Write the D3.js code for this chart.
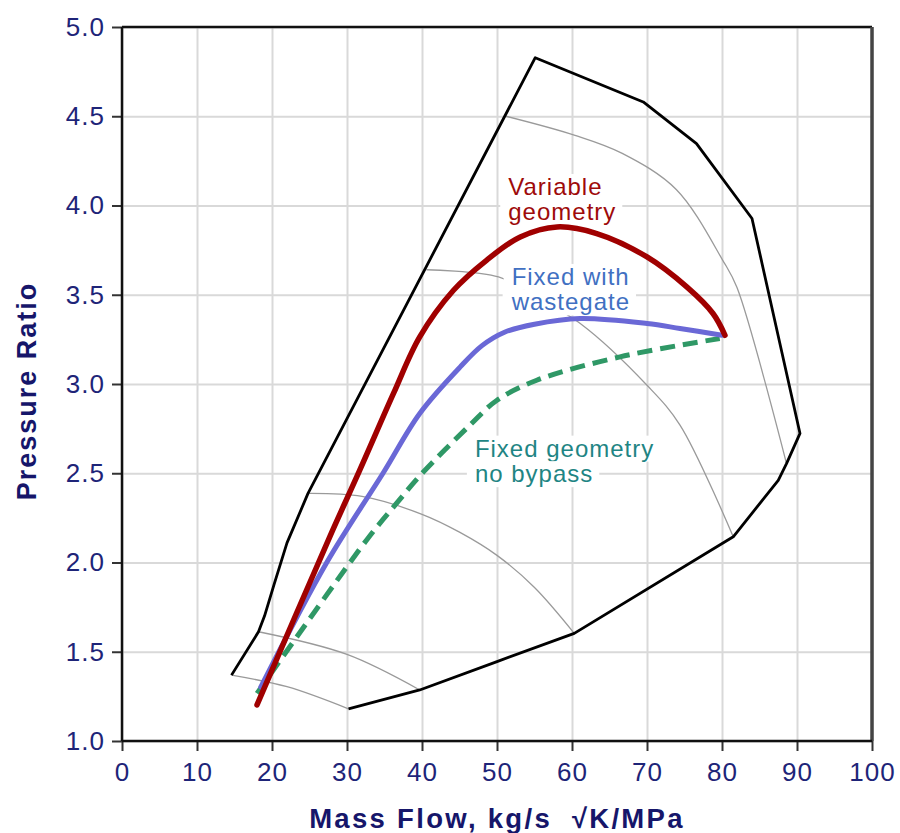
<!DOCTYPE html>
<html>
<head>
<meta charset="utf-8">
<script src="https://cdn.jsdelivr.net/npm/d3@7"></script>
<style>
  body { margin: 0; background: #fff; }
  svg { display: block; }
</style>
</head>
<body>
<div id="chart"></div>
<script>
// compressor map values (mass flow, pressure ratio)
const envelope = [
    [14.6, 1.369], [18.2, 1.612], [19.0, 1.700], [20.3, 1.880], [22.0, 2.110],
    [24.8, 2.387], [55.1, 4.828], [69.5, 4.580], [76.6, 4.347], [84.0, 3.927],
    [90.4, 2.723], [88.6, 2.554], [87.5, 2.460], [85.5, 2.355], [81.5, 2.144],
    [60.3, 1.603], [50.0, 1.445], [39.7, 1.286], [30.2, 1.180]
];

const speedLines = [
    [[14.6, 1.369], [22.0, 1.304], [30.2, 1.180]],
    [[18.2, 1.612], [30.0, 1.485], [39.7, 1.286]],
    [[24.8, 2.387], [32.0, 2.370], [40.0, 2.270], [45.0, 2.170], [50.0, 2.040], [55.0, 1.860], [60.3, 1.603]],
    [[40.6, 3.640], [50.2, 3.600], [55.5, 3.480], [61.1, 3.339], [70.0, 2.993], [74.4, 2.770], [81.5, 2.144]],
    [[51.2, 4.500], [60.4, 4.393], [66.7, 4.292], [73.9, 4.090], [80.1, 3.693], [82.0, 3.540], [88.6, 2.554]]
];

const variableGeometry = [
    [18.0, 1.202], [27.7, 2.144], [31.7, 2.517], [36.2, 2.947], [39.7, 3.264],
    [44.2, 3.525], [48.6, 3.693], [53.1, 3.824], [58.0, 3.880], [63.3, 3.843],
    [70.0, 3.712], [75.3, 3.544], [78.8, 3.395], [80.4, 3.273]
];

const wastegate = [
    [18.5, 1.302], [27.3, 2.000], [34.8, 2.500], [39.7, 2.835],
    [45.1, 3.096], [48.0, 3.215], [51.0, 3.290], [55.0, 3.335], [61.1, 3.367],
    [70.0, 3.339], [74.4, 3.311], [80.0, 3.273]
];

const noBypass = [
    [18.0, 1.267], [32.6, 2.125], [36.6, 2.331], [39.7, 2.485], [46.4, 2.770],
    [50.0, 2.909], [55.3, 3.021], [66.4, 3.152], [79.7, 3.255]
];

const xTicks = [0, 10, 20, 30, 40, 50, 60, 70, 80, 90, 100];
const yTicks = [1.0, 1.5, 2.0, 2.5, 3.0, 3.5, 4.0, 4.5, 5.0];

const labelVariable = ["Variable", "geometry"];
const labelWastegate = ["Fixed with", "wastegate"];
const labelNoBypass = ["Fixed geometry", "no bypass"];

drawMap();

function drawMap() {
    const el = "#chart";
    const width = 900;
    const height = 833;
    const margin = { top: 27, right: 28, bottom: 92, left: 122 };

    const graphW = width - margin.left - margin.right;
    const graphH = height - margin.top - margin.bottom;

    const font = "'Liberation Sans', Arial, sans-serif";
    const tickColour = "#1e2478";
    const titleColour = "#16166a";

    let svg = d3.select(el).append("svg")
        .attr("width", width)
        .attr("height", height);

    let group = svg.append("g")
        .attr("transform", `translate(${margin.left}, ${margin.top})`);

    const x = d3.scaleLinear().domain([0, 100]).range([0, graphW]);
    const y = d3.scaleLinear().domain([1, 5]).range([graphH, 0]);

    // gridlines
    group.append("g")
        .attr("class", "grid")
        .call(d3.axisLeft(y).tickValues(yTicks).tickSize(-graphW).tickFormat(""))
        .call(g => g.select(".domain").remove())
        .selectAll("line")
        .attr("stroke", "#d9d9d9")
        .attr("stroke-width", 2);

    group.append("g")
        .attr("class", "grid")
        .attr("transform", `translate(0, ${graphH})`)
        .call(d3.axisBottom(x).tickValues(xTicks).tickSize(-graphH).tickFormat(""))
        .call(g => g.select(".domain").remove())
        .selectAll("line")
        .attr("stroke", "#d9d9d9")
        .attr("stroke-width", 2);

    const line = d3.line()
        .x(d => x(d[0]))
        .y(d => y(d[1]));

    const smooth = d3.line()
        .x(d => x(d[0]))
        .y(d => y(d[1]))
        .curve(d3.curveCatmullRom.alpha(0.5));

    // thin speed lines
    group.append("g")
        .selectAll("path")
        .data(speedLines)
        .enter()
        .append("path")
        .attr("d", smooth)
        .attr("fill", "none")
        .attr("stroke", "#9a9a9a")
        .attr("stroke-width", 1.3);

    // labels with white boxes behind each line
    const labels = [
        { lines: labelVariable, x: 51.5, y: 4.059, colour: "#9e0a0a" },
        { lines: labelWastegate, x: 51.95, y: 3.555, colour: "#4170c2" },
        { lines: labelNoBypass, x: 47.05, y: 2.593, colour: "#1f8584" }
    ];
    const labelGroup = group.append("g");
    labels.forEach(lab => {
        lab.lines.forEach((t, i) => {
            const g = labelGroup.append("g");
            const txt = g.append("text")
                .attr("x", x(lab.x))
                .attr("y", y(lab.y) + i * 25.5)
                .style("font-family", font)
                .style("font-size", "24px")
                .style("letter-spacing", "1px")
                .attr("fill", lab.colour)
                .text(t);
            const b = txt.node().getBBox();
            g.insert("rect", "text")
                .attr("x", b.x - 8)
                .attr("y", b.y + 1)
                .attr("width", b.width + 14)
                .attr("height", b.height - 1)
                .attr("fill", "#fff");
        });
    });

    // operating envelope
    group.append("path")
        .datum(envelope)
        .attr("d", line)
        .attr("fill", "none")
        .attr("stroke", "#000")
        .attr("stroke-width", 2.8)
        .attr("stroke-linejoin", "round");

    group.append("path")
        .datum(noBypass)
        .attr("d", smooth)
        .attr("fill", "none")
        .attr("stroke", "#2f9866")
        .attr("stroke-width", 5)
        .attr("stroke-dasharray", "15,8");

    group.append("path")
        .datum(wastegate)
        .attr("d", smooth)
        .attr("fill", "none")
        .attr("stroke", "#6a68d6")
        .attr("stroke-width", 5)
        .attr("stroke-linecap", "round");

    group.append("path")
        .datum(variableGeometry)
        .attr("d", smooth)
        .attr("fill", "none")
        .attr("stroke", "#a00000")
        .attr("stroke-width", 5.5)
        .attr("stroke-linecap", "round");

    // axes
    const yAxis = group.append("g")
        .call(d3.axisLeft(y)
            .tickValues(yTicks)
            .tickFormat(d3.format(".1f"))
            .tickSize(10)
            .tickPadding(7));
    const xAxis = group.append("g")
        .attr("transform", `translate(0, ${graphH})`)
        .call(d3.axisBottom(x)
            .tickValues(xTicks)
            .tickSize(10)
            .tickPadding(12));

    [yAxis, xAxis].forEach(a => {
        a.select(".domain").remove();
        a.selectAll(".tick line").attr("stroke", "#333").attr("stroke-width", 2);
        a.selectAll(".tick text")
            .style("font-family", font)
            .style("font-size", "26px")
            .style("letter-spacing", "1px")
            .attr("fill", tickColour);
    });
    xAxis.selectAll(".tick text").attr("dy", "0.71em");

    // frame
    group.append("line").attr("x1", 0).attr("x2", graphW).attr("y1", 0).attr("y2", 0)
        .attr("stroke", "#111").attr("stroke-width", 2.5);
    group.append("line").attr("x1", graphW).attr("x2", graphW).attr("y1", 0).attr("y2", graphH)
        .attr("stroke", "#444").attr("stroke-width", 3.5);
    group.append("line").attr("x1", 0).attr("x2", graphW).attr("y1", graphH).attr("y2", graphH)
        .attr("stroke", "#111").attr("stroke-width", 2.5);
    group.append("line").attr("x1", 0).attr("x2", 0).attr("y1", 0).attr("y2", graphH)
        .attr("stroke", "#111").attr("stroke-width", 2.5);

    // axis titles
    svg.append("text")
        .attr("x", margin.left + graphW / 2)
        .attr("y", 828)
        .attr("text-anchor", "middle")
        .style("font-family", font)
        .style("font-size", "27.5px")
        .style("font-weight", 700)
        .style("letter-spacing", "2.3px")
        .attr("fill", titleColour)
        .text("Mass Flow, kg/s \u00a0\u221aK/MPa");

    svg.append("text")
        .attr("transform", "translate(36, 391) rotate(-90)")
        .attr("text-anchor", "middle")
        .style("font-family", font)
        .style("font-size", "27px")
        .style("font-weight", 700)
        .style("letter-spacing", "2px")
        .attr("fill", titleColour)
        .text("Pressure Ratio");
}
</script>
</body>
</html>
